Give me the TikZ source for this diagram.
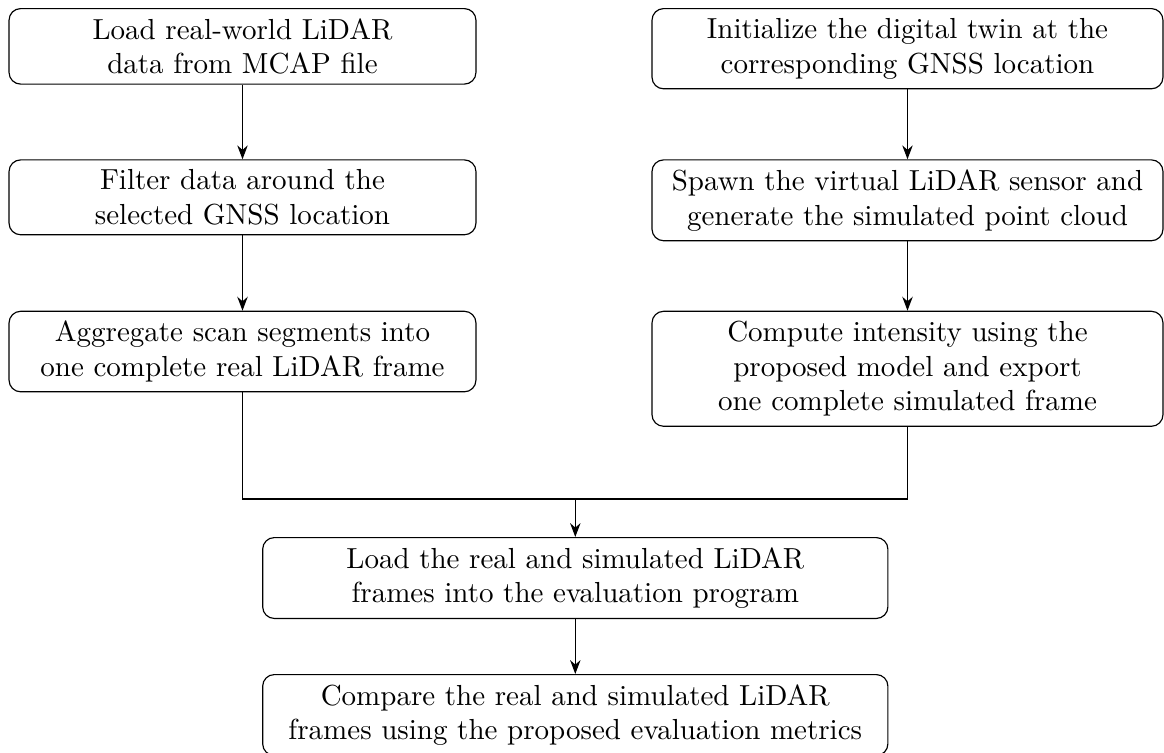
\documentclass[tikz,border=0pt]{standalone}
\usetikzlibrary{arrows.meta}
\begin{document}
\begin{tikzpicture}[x=0.34483pt,y=-0.34483pt,
  stepbox/.style={draw, rounded corners=4pt, align=center, anchor=north, inner sep=3.333pt},
  leftbox/.style={stepbox, minimum width=161.0pt},
  rightbox/.style={stepbox, minimum width=176.2pt},
  lowbox/.style={stepbox, minimum width=215.6pt},
  flow/.style={-{Stealth}}]
\useasboundingbox (0,0) rectangle (1164,753);

% real-data branch
\node[leftbox] (l1) at (242.5,8) {Load real-world LiDAR\\data from MCAP file};
\node[leftbox] (l2) at (242.5,159.3) {Filter data around the\\selected GNSS location};
\node[leftbox] (l3) at (242.5,310.7) {Aggregate scan segments into\\one complete real LiDAR frame};

% simulation branch
\node[rightbox] (r1) at (907.5,8) {Initialize the digital twin at the\\corresponding GNSS location};
\node[rightbox] (r2) at (907.5,159.3) {Spawn the virtual LiDAR sensor and\\generate the simulated point cloud};
\node[rightbox] (r3) at (907.5,310.7) {Compute intensity using the\\proposed model and export\\one complete simulated frame};

% evaluation
\node[lowbox] (b1) at (575.3,537) {Load the real and simulated LiDAR\\frames into the evaluation program};
\node[lowbox] (b2) at (575.3,674) {Compare the real and simulated LiDAR\\frames using the proposed evaluation metrics};

\coordinate (join) at (575.3,499);

\draw[flow] (l1) -- (l2);
\draw[flow] (l2) -- (l3);
\draw[flow] (r1) -- (r2);
\draw[flow] (r2) -- (r3);
\draw (l3.south) |- (join);
\draw (r3.south) |- (join);
\draw[flow] (join) -- (b1.north);
\draw[flow] (b1) -- (b2);
\end{tikzpicture}
\end{document}
